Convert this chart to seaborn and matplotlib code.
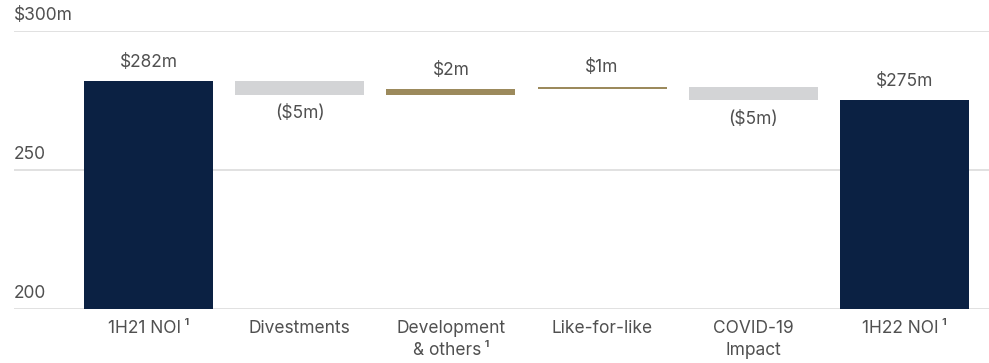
import matplotlib
matplotlib.use("Agg")
import matplotlib.pyplot as plt
import matplotlib.transforms as mtransforms
import numpy as np
import pandas as pd
import seaborn as sns

# NOI bridge, $m
categories = ["1H21 NOI\u2009\u00b9", "Divestments", "Development\n& others\u2009\u00b9",
              "Like-for-like", "COVID-19\nImpact", "1H22 NOI\u2009\u00b9"]
opening_noi = 282
movements = [-5, 2, 1, -5]
closing_noi = 275
y_ticks = [200, 250, 300]
y_tick_labels = ["200", "250", "$300m"]

NAVY = "#0b2143"
GREY = "#d3d4d6"
GOLD = "#9c8a5c"
TEXT = "#505050"
GRID = "#d9d9d9"
FS = 12.5

sns.set_theme(style="white")
plt.rcParams["font.family"] = ["Inter", "DejaVu Sans"]

# floating segments of the waterfall
levels = np.concatenate([[opening_noi], opening_noi + np.cumsum(movements)])
heights = [opening_noi] + [abs(m) for m in movements] + [closing_noi]
bottoms = [0] + [min(levels[i], levels[i + 1]) for i in range(len(movements))] + [0]
colors = [NAVY] + [GOLD if m > 0 else GREY for m in movements] + [NAVY]

df = pd.DataFrame({"category": categories, "height": heights, "bottom": bottoms})

fig = plt.figure(figsize=(9.89, 3.63), dpi=100)
ax = fig.add_axes([0.0142, 0.1488, 0.9858, 0.7658])

for y in y_ticks:
    ax.axhline(y, color=GRID, lw=1.1, zorder=0)

sns.barplot(data=df, x="category", y="height", color=NAVY,
            bottom=df["bottom"].values, width=0.853, ax=ax,
            saturation=1, zorder=2, linewidth=0)
for patch, c in zip(ax.patches, colors):
    patch.set_facecolor(c)

ax.set_ylim(200, 300)
ax.set_xlim(-0.89, 5.56)
ax.set_yticks([])
ax.set_xlabel("")
ax.set_ylabel("")
for s in ax.spines.values():
    s.set_visible(False)
ax.tick_params(axis="x", length=0, pad=8, labelsize=FS, labelcolor=TEXT)
for lab in ax.get_xticklabels():
    lab.set_linespacing(1.35)

# y labels sit just above their gridlines, at the left edge
trans = mtransforms.blended_transform_factory(ax.transAxes, ax.transData)
for y, lab in zip(y_ticks, y_tick_labels):
    ax.annotate(lab, xy=(0, y), xycoords=trans, xytext=(0, 11),
                textcoords="offset points", ha="left", va="center",
                fontsize=FS, color=TEXT)

# value labels
value_texts = [f"${opening_noi}m"] + [
    f"${m}m" if m > 0 else f"(${-m}m)" for m in movements] + [f"${closing_noi}m"]
tops = [opening_noi] + [max(levels[i], levels[i + 1]) for i in range(len(movements))] + [closing_noi]
for i, txt in enumerate(value_texts):
    below = 1 <= i <= len(movements) and movements[i - 1] < 0
    if below:
        ax.annotate(txt, xy=(i, bottoms[i]), xytext=(0, -13.5), textcoords="offset points",
                    ha="center", va="center", fontsize=FS, color=TEXT)
    else:
        ax.annotate(txt, xy=(i, tops[i]), xytext=(0, 13.5), textcoords="offset points",
                    ha="center", va="center", fontsize=FS, color=TEXT)

fig.savefig("out.png", dpi=100)
